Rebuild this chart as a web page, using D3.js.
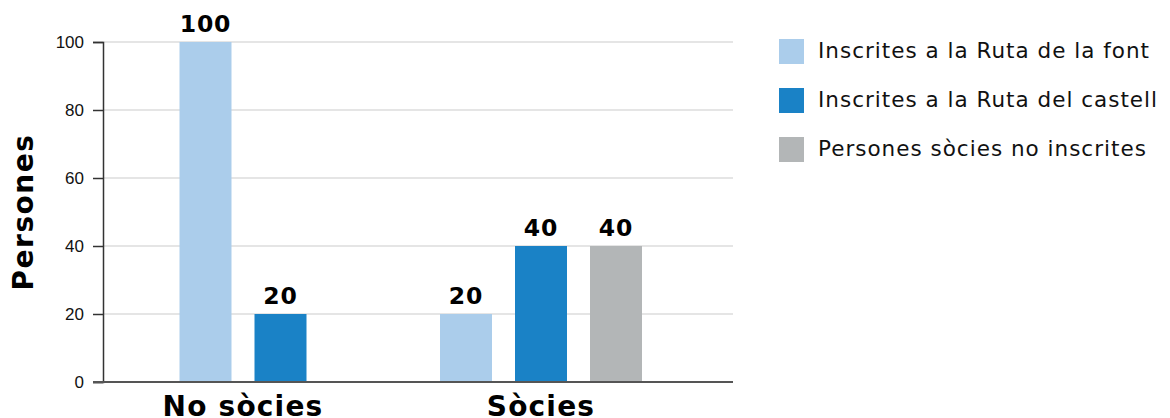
<!DOCTYPE html>
<html>
<head>
<meta charset="utf-8">
<script src="https://cdn.jsdelivr.net/npm/d3@7"></script>
<style>
  body { margin: 0; background: #fff; }
  svg { display: block; }
</style>
</head>
<body>
<div id="vis"></div>
<script>
// chart data
const categories = ["No sòcies", "Sòcies"];
const seriesNames = ["Inscrites a la Ruta de la font", "Inscrites a la Ruta del castell", "Persones sòcies no inscrites"];
const seriesColors = ["#abcdeb", "#1a82c6", "#b3b6b7"];
const fontValues = [100, 20];
const castellValues = [20, 40];
const noInscritesValues = [null, 40];
const yTicks = [0, 20, 40, 60, 80, 100];

const allSeries = [fontValues, castellValues, noInscritesValues];

const svg = d3.select("#vis").append("svg")
  .attr("width", 1170)
  .attr("height", 418);

const y = d3.scaleLinear().domain([0, 100]).range([382, 42]);
const x = d3.scaleBand().domain(categories).range([94, 690]);
const barW = 52, barStep = 75;
const plotLeft = 103, plotRight = 733;
const boldFont = "DejaVu Sans, Verdana, sans-serif";

// gridlines
svg.append("g")
  .selectAll("line")
  .data(yTicks.filter(d => d > 0))
  .join("line")
  .attr("x1", plotLeft).attr("x2", plotRight)
  .attr("y1", d => y(d)).attr("y2", d => y(d))
  .attr("stroke", "#dddddd")
  .attr("stroke-width", 1.5);

// y axis
const yAxis = svg.append("g")
  .attr("transform", `translate(${plotLeft},0)`)
  .call(d3.axisLeft(y).tickValues(yTicks).tickSize(10).tickPadding(9));
yAxis.select(".domain").attr("stroke", "#333").attr("stroke-width", 1.5);
yAxis.selectAll(".tick line").attr("stroke", "#333").attr("stroke-width", 1.5);
yAxis.selectAll(".tick text")
  .attr("font-family", "Liberation Sans, Arial, sans-serif")
  .attr("font-size", 17)
  .attr("fill", "#111");

// bars, centred within each category
categories.forEach((cat, ci) => {
  const present = allSeries
    .map((s, si) => ({ si, v: s[ci] }))
    .filter(d => d.v != null);
  const cx = x(cat) + x.bandwidth() / 2;
  const g = svg.append("g");
  g.selectAll("rect")
    .data(present)
    .join("rect")
    .attr("x", (d, i) => cx + (i - (present.length - 1) / 2) * barStep - barW / 2)
    .attr("y", d => y(d.v))
    .attr("width", barW)
    .attr("height", d => y(0) - y(d.v))
    .attr("fill", d => seriesColors[d.si]);
  g.selectAll("text")
    .data(present)
    .join("text")
    .attr("x", (d, i) => cx + (i - (present.length - 1) / 2) * barStep)
    .attr("y", d => y(d.v) - 10)
    .attr("text-anchor", "middle")
    .attr("font-family", boldFont)
    .attr("font-weight", "bold")
    .attr("font-size", 23.5)
    .attr("letter-spacing", 0.8)
    .attr("fill", "#000")
    .text(d => d.v);
});

// baseline
svg.append("line")
  .attr("x1", plotLeft - 10).attr("x2", plotRight)
  .attr("y1", y(0)).attr("y2", y(0))
  .attr("stroke", "#555")
  .attr("stroke-width", 2);

// category labels
svg.append("g")
  .selectAll("text")
  .data(categories)
  .join("text")
  .attr("x", d => x(d) + x.bandwidth() / 2)
  .attr("y", 416)
  .attr("text-anchor", "middle")
  .attr("font-family", boldFont)
  .attr("font-weight", "bold")
  .attr("font-size", 28)
  .attr("letter-spacing", 1.2)
  .attr("fill", "#000")
  .text(d => d);

// y axis title
svg.append("text")
  .attr("transform", `translate(33,${(y(0) + y(100)) / 2}) rotate(-90)`)
  .attr("text-anchor", "middle")
  .attr("font-family", boldFont)
  .attr("font-weight", "bold")
  .attr("font-size", 28)
  .attr("letter-spacing", 1.5)
  .attr("fill", "#000")
  .text("Persones");

// legend
const legend = svg.append("g").attr("transform", "translate(779,39)");
const items = legend.selectAll("g")
  .data(seriesNames)
  .join("g")
  .attr("transform", (d, i) => `translate(0,${i * 49})`);
items.append("rect")
  .attr("width", 25).attr("height", 25)
  .attr("fill", (d, i) => seriesColors[i]);
items.append("text")
  .attr("x", 39)
  .attr("y", 19)
  .attr("font-family", boldFont)
  .attr("font-size", 21.5)
  .attr("letter-spacing", 1)
  .attr("fill", "#111")
  .text(d => d);
</script>
</body>
</html>
